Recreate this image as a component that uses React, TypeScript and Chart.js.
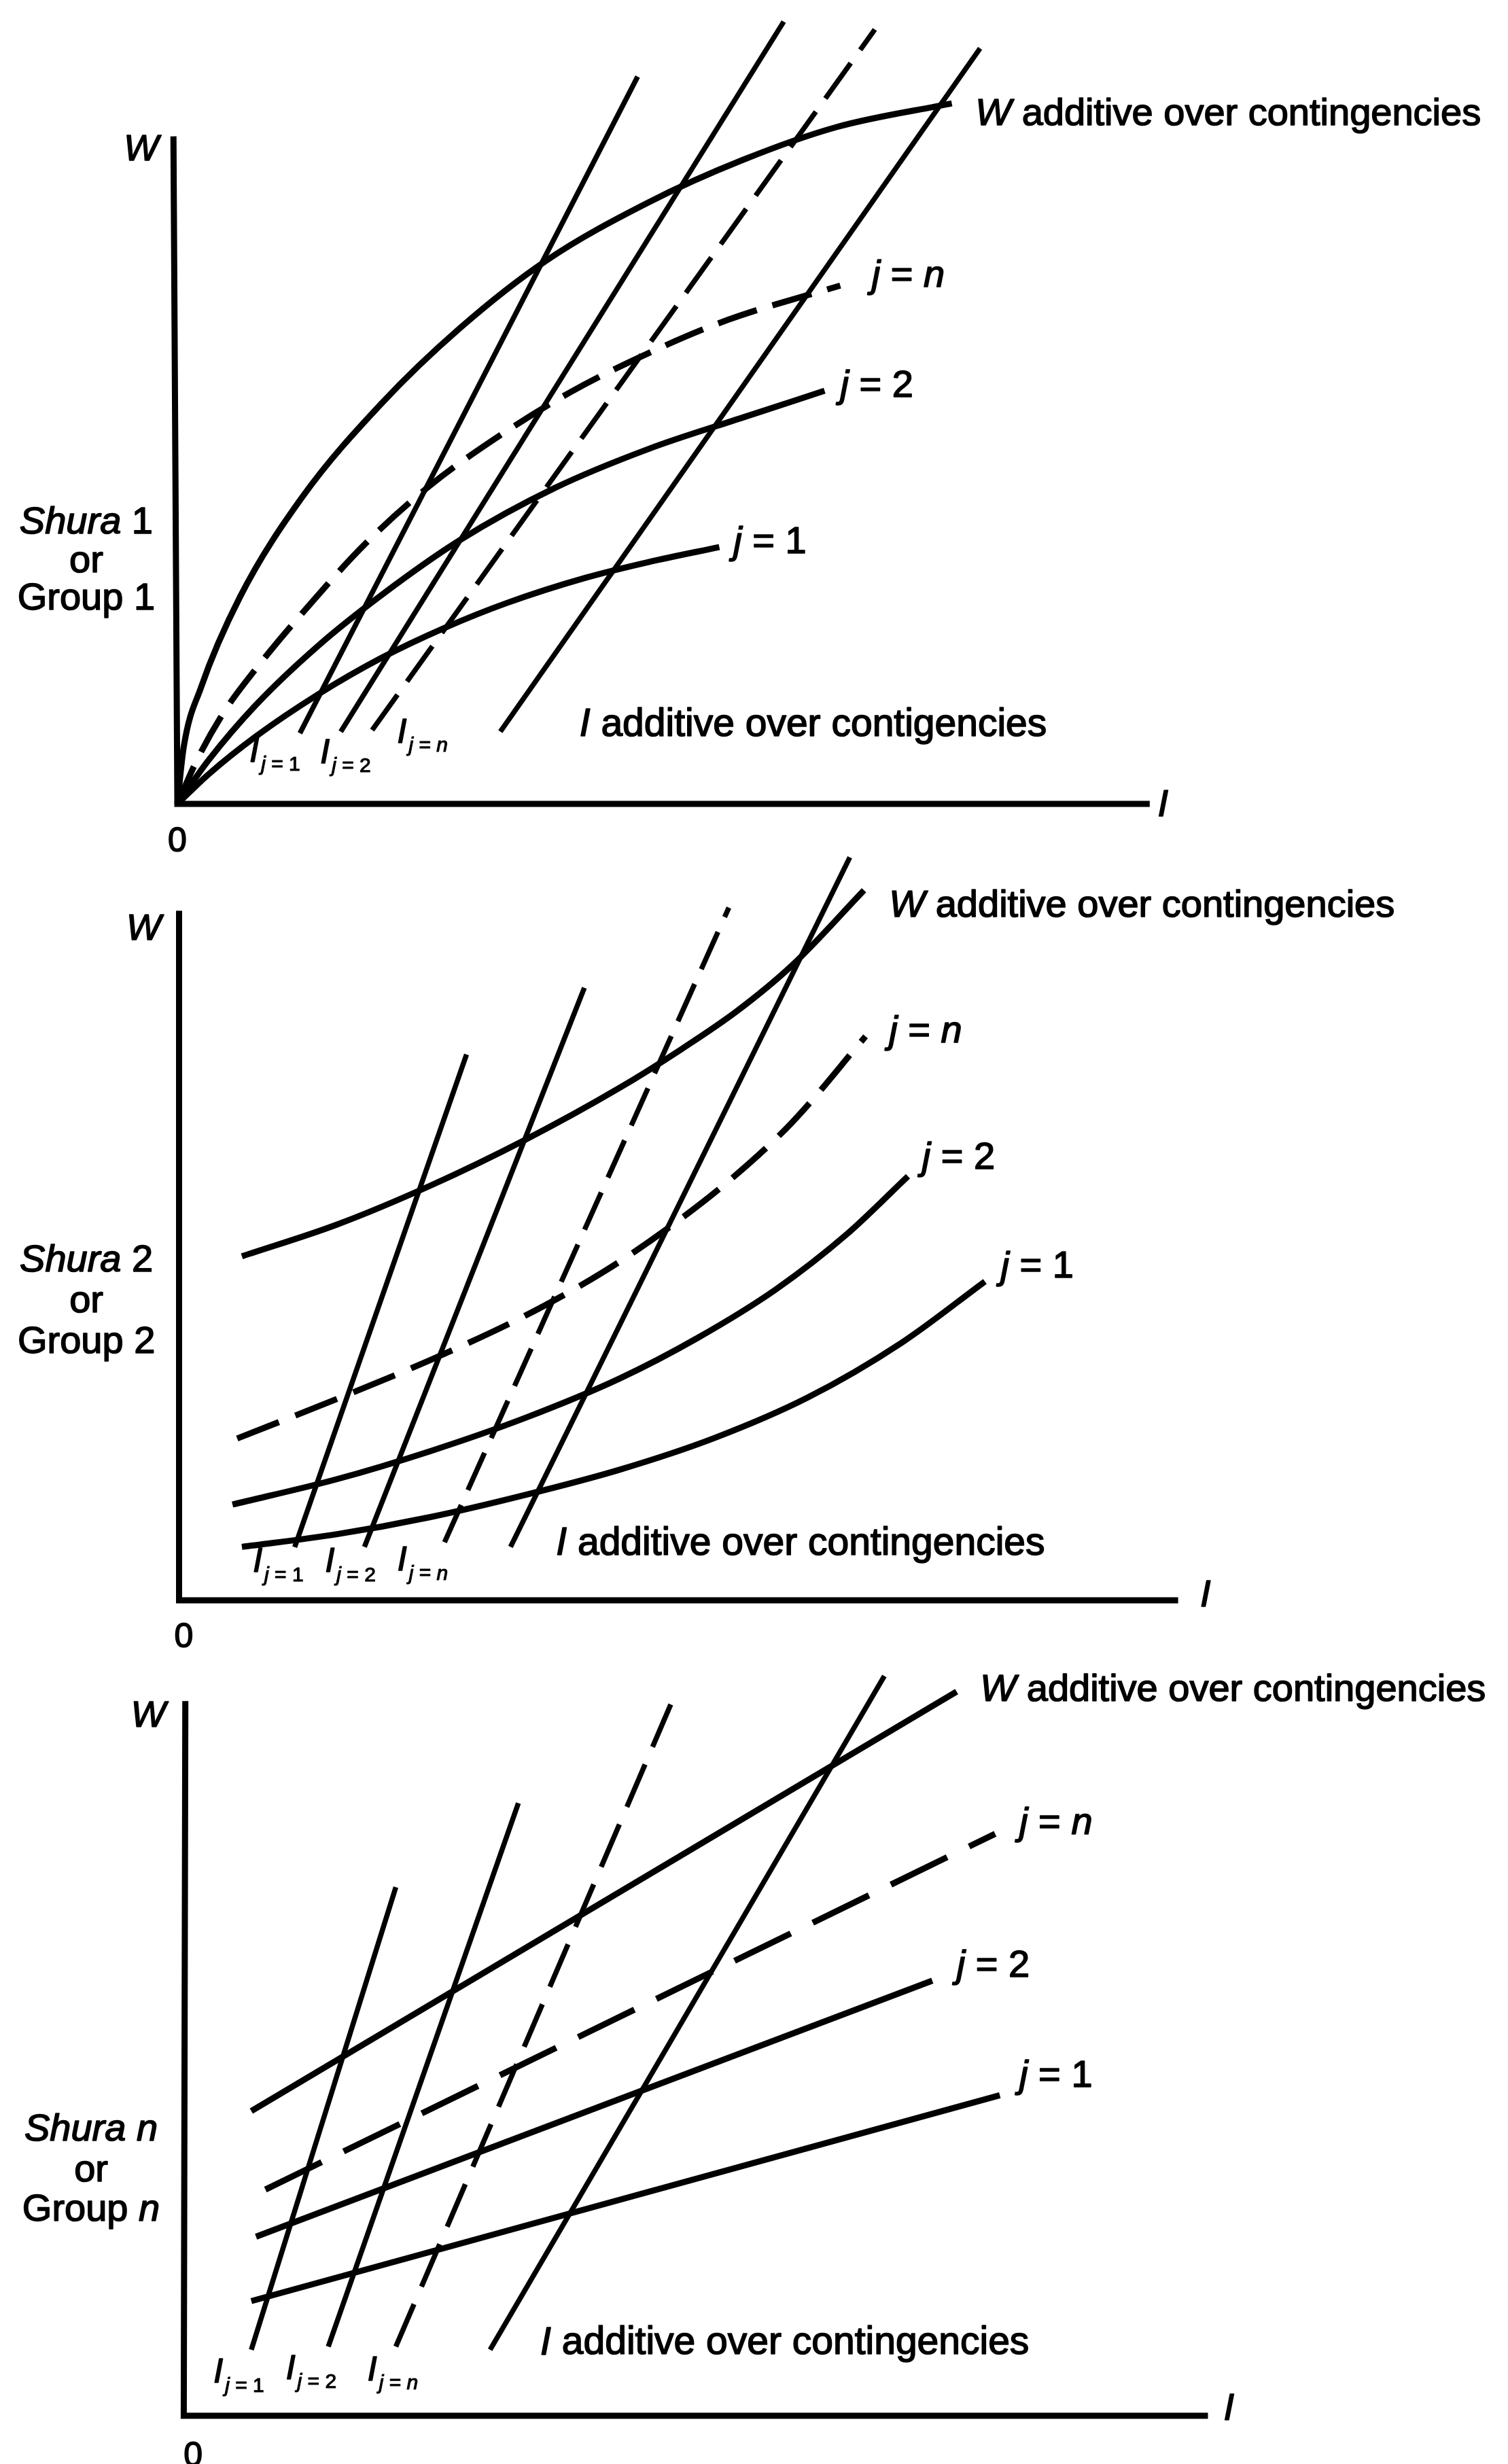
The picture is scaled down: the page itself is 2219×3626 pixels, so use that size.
import { useEffect, useRef } from "react";
import { Chart, registerables } from "chart.js";

Chart.register(...registerables);

type Pt = [number, number];
type Run = [string, boolean]; // [text, italic]

// ================= DATA (units of the I / W plane, origin at 0) =================

// ---- Panel 1 : Shura 1 or Group 1 (concave W curves) ----
const P1_W_ADDITIVE: Pt[] = [[0, 0], [0.4, 3.6], [1.5, 7.4], [4, 13.2], [8, 19.6], [13, 25.5], [18, 30.3], [23.5, 34.6], [30, 38.3], [36, 41.0], [42, 43.1], [49.3, 44.6]];
const P1_J_N: Pt[] = [[0, 0], [1.3, 2.9], [3, 5.9], [5, 8.6], [8, 12.2], [12, 16.6], [16, 20.2], [20, 23.1], [25, 26.2], [30, 28.7], [35, 30.8], [42.2, 33.0]];
const P1_J_2: Pt[] = [[0, 0], [2, 2.8], [5, 6.3], [9, 10.1], [13, 13.3], [18, 16.8], [24, 20.1], [30, 22.6], [36, 24.6], [41.2, 26.3]];
const P1_J_1: Pt[] = [[0, 0], [2, 1.9], [5, 4.3], [9, 7.0], [13, 9.3], [17, 11.2], [21, 12.8], [26, 14.4], [30, 15.4], [34.5, 16.35]];
const P1_I_J1: Pt[] = [[7.8, 4.5], [29.3, 46.3]];
const P1_I_J2: Pt[] = [[10.4, 4.6], [38.6, 49.8]];
const P1_I_JN: Pt[] = [[12.4, 4.7], [44.4, 49.3]];
const P1_I_ADDITIVE: Pt[] = [[20.56, 4.6], [51.1, 48.1]];
const P1_AXES: Pt[] = [[-0.25, 42.5], [0, 0], [61.9, 0]]; // W axis top, origin, I axis end

// ---- Panel 2 : Shura 2 or Group 2 (convex W curves) ----
const P2_W_ADDITIVE: Pt[] = [[4, 21.9], [10, 23.9], [16, 26.4], [22, 29.3], [28, 32.6], [32, 35.1], [35.5, 37.5], [39, 40.4], [43.6, 45.2]];
const P2_J_N: Pt[] = [[3.7, 10.3], [10, 12.8], [16, 15.3], [22, 18.1], [27, 20.9], [31, 23.6], [35, 26.7], [39, 30.4], [43.7, 35.9]];
const P2_J_2: Pt[] = [[3.4, 6.1], [10, 7.7], [16, 9.5], [22, 11.6], [28, 14.1], [33, 16.7], [38, 19.8], [42.5, 23.3], [46.4, 27.0]];
const P2_J_1: Pt[] = [[4, 3.4], [10, 4.2], [16, 5.3], [22, 6.7], [28, 8.3], [34, 10.3], [40, 12.9], [46, 16.4], [51.3, 20.3]];
const P2_I_J1: Pt[] = [[7.36, 3.39], [18.3, 34.75]];
const P2_I_J2: Pt[] = [[11.8, 3.4], [25.8, 39.0]];
const P2_I_JN: Pt[] = [[16.9, 3.7], [35.0, 44.1]];
const P2_I_ADDITIVE: Pt[] = [[21.1, 3.4], [42.7, 47.3]];
const P2_AXES: Pt[] = [[0, 43.9], [0, 0], [63.6, 0]];

// ---- Panel 3 : Shura n or Group n (linear W) ----
const P3_W_ADDITIVE: Pt[] = [[4.3, 19.4], [49.2, 46.1]];
const P3_J_N: Pt[] = [[5.2, 14.4], [51.65, 37.05]];
const P3_J_2: Pt[] = [[4.6, 11.4], [47.65, 27.7]];
const P3_J_1: Pt[] = [[4.3, 7.3], [51.95, 20.4]];
const P3_I_J1: Pt[] = [[4.3, 4.2], [13.5, 33.65]];
const P3_I_J2: Pt[] = [[9.2, 4.4], [21.3, 39.0]];
const P3_I_JN: Pt[] = [[13.5, 4.4], [31.35, 46.1]];
const P3_I_ADDITIVE: Pt[] = [[19.5, 4.2], [44.6, 47.1]];
const P3_AXES: Pt[] = [[0.1, 45.5], [0, 0], [65.2, 0]];

// ---- Text ----
const W_ADD_TEXT: Run[] = [["W", true], [" additive over contingencies", false]];
const I_ADD_TEXT_P1: Run[] = [["I", true], [" additive over contigencies", false]];
const I_ADD_TEXT: Run[] = [["I", true], [" additive over contingencies", false]];
const JN_TEXT: Run[] = [["j", true], [" = ", false], ["n", true]];
const J2_TEXT: Run[] = [["j", true], [" = 2", false]];
const J1_TEXT: Run[] = [["j", true], [" = 1", false]];
const SUB_J1: Run[] = [["j", true], [" = 1", false]];
const SUB_J2: Run[] = [["j", true], [" = 2", false]];
const SUB_JN: Run[] = [["j", true], [" = ", false], ["n", true]];
const SIDE_P1: Run[][] = [[["Shura", true], [" 1", false]], [["or", false]], [["Group 1", false]]];
const SIDE_P2: Run[][] = [[["Shura", true], [" 2", false]], [["or", false]], [["Group 2", false]]];
const SIDE_P3: Run[][] = [[["Shura n", true]], [["or", false]], [["Group ", false], ["n", true]]];

// ================= LAYOUT =================
const PAGE_W = 2219;
const PAGE_H = 3626;
const UNIT = 23.115; // pixels per data unit
const FONT = "'Liberation Sans', Arial, Helvetica, sans-serif";

interface Label { x: number; y: number; runs: Run[]; align: "left" | "center" | "right"; size: number }
interface SubLabel { x: number; y: number; sub: Run[] }
interface Panel {
  origin: [number, number];
  axes: Pt[];
  curves: { data: Pt[]; dashed: boolean; curved: boolean; width: number; dash: number[] }[];
  labels: Label[];
  subs: SubLabel[];
  side: { x: number; ys: number[]; lines: Run[][] };
}

const CURVE_W = 9;
const LINE_W = 7.5;

const PANELS: Panel[] = [
  {
    origin: [261, 1183],
    axes: P1_AXES,
    curves: [
      { data: P1_W_ADDITIVE, dashed: false, curved: true, width: CURVE_W, dash: [] },
      { data: P1_J_N, dashed: true, curved: true, width: CURVE_W, dash: [60, 24] },
      { data: P1_J_2, dashed: false, curved: true, width: CURVE_W, dash: [] },
      { data: P1_J_1, dashed: false, curved: true, width: CURVE_W, dash: [] },
      { data: P1_I_J1, dashed: false, curved: false, width: LINE_W, dash: [] },
      { data: P1_I_J2, dashed: false, curved: false, width: LINE_W, dash: [] },
      { data: P1_I_JN, dashed: true, curved: false, width: LINE_W, dash: [64, 24] },
      { data: P1_I_ADDITIVE, dashed: false, curved: false, width: LINE_W, dash: [] },
    ],
    labels: [
      { x: -1.2, y: 41.6, runs: [["W", true]], align: "right", size: 54 },
      { x: 0, y: -2.45, runs: [["0", false]], align: "center", size: 50 },
      { x: 62.4, y: -0.1, runs: [["I", true]], align: "left", size: 56 },
      { x: 50.8, y: 43.9, runs: W_ADD_TEXT, align: "left", size: 56 },
      { x: 44.2, y: 33.6, runs: JN_TEXT, align: "left", size: 56 },
      { x: 42.2, y: 26.6, runs: J2_TEXT, align: "left", size: 56 },
      { x: 35.4, y: 16.65, runs: J1_TEXT, align: "left", size: 56 },
      { x: 25.6, y: 5.0, runs: I_ADD_TEXT_P1, align: "left", size: 57 },
    ],
    subs: [
      { x: 4.6, y: 3.3, sub: SUB_J1 },
      { x: 9.1, y: 3.2, sub: SUB_J2 },
      { x: 14.0, y: 4.5, sub: SUB_JN },
    ],
    side: { x: -5.8, ys: [17.9, 15.4, 13.05], lines: SIDE_P1 },
  },
  {
    origin: [263.5, 2355],
    axes: P2_AXES,
    curves: [
      { data: P2_W_ADDITIVE, dashed: false, curved: true, width: CURVE_W, dash: [] },
      { data: P2_J_N, dashed: true, curved: true, width: CURVE_W, dash: [66, 26] },
      { data: P2_J_2, dashed: false, curved: true, width: CURVE_W, dash: [] },
      { data: P2_J_1, dashed: false, curved: true, width: CURVE_W, dash: [] },
      { data: P2_I_J1, dashed: false, curved: false, width: LINE_W, dash: [] },
      { data: P2_I_J2, dashed: false, curved: false, width: LINE_W, dash: [] },
      { data: P2_I_JN, dashed: true, curved: false, width: LINE_W, dash: [60, 24] },
      { data: P2_I_ADDITIVE, dashed: false, curved: false, width: LINE_W, dash: [] },
    ],
    labels: [
      { x: -1.15, y: 42.7, runs: [["W", true]], align: "right", size: 54 },
      { x: 0.3, y: -2.4, runs: [["0", false]], align: "center", size: 50 },
      { x: 65.0, y: 0.3, runs: [["I", true]], align: "left", size: 56 },
      { x: 45.2, y: 44.2, runs: W_ADD_TEXT, align: "left", size: 56 },
      { x: 45.2, y: 36.2, runs: JN_TEXT, align: "left", size: 56 },
      { x: 47.3, y: 28.15, runs: J2_TEXT, align: "left", size: 56 },
      { x: 52.3, y: 21.2, runs: J1_TEXT, align: "left", size: 56 },
      { x: 24.0, y: 3.6, runs: I_ADD_TEXT, align: "left", size: 57 },
    ],
    subs: [
      { x: 4.7, y: 2.4, sub: SUB_J1 },
      { x: 9.3, y: 2.4, sub: SUB_J2 },
      { x: 13.9, y: 2.5, sub: SUB_JN },
    ],
    side: { x: -5.9, ys: [21.6, 19.0, 16.4], lines: SIDE_P2 },
  },
  {
    origin: [270.4, 3555],
    axes: P3_AXES,
    curves: [
      { data: P3_W_ADDITIVE, dashed: false, curved: false, width: CURVE_W, dash: [] },
      { data: P3_J_N, dashed: true, curved: false, width: CURVE_W, dash: [92, 36] },
      { data: P3_J_2, dashed: false, curved: false, width: CURVE_W, dash: [] },
      { data: P3_J_1, dashed: false, curved: false, width: CURVE_W, dash: [] },
      { data: P3_I_J1, dashed: false, curved: false, width: LINE_W, dash: [] },
      { data: P3_I_J2, dashed: false, curved: false, width: LINE_W, dash: [] },
      { data: P3_I_JN, dashed: true, curved: false, width: LINE_W, dash: [68, 28] },
      { data: P3_I_ADDITIVE, dashed: false, curved: false, width: LINE_W, dash: [] },
    ],
    labels: [
      { x: -1.15, y: 44.5, runs: [["W", true]], align: "right", size: 54 },
      { x: 0.6, y: -2.6, runs: [["0", false]], align: "center", size: 50 },
      { x: 66.2, y: 0.4, runs: [["I", true]], align: "left", size: 56 },
      { x: 50.7, y: 46.2, runs: W_ADD_TEXT, align: "left", size: 56 },
      { x: 53.2, y: 37.7, runs: JN_TEXT, align: "left", size: 56 },
      { x: 49.2, y: 28.6, runs: J2_TEXT, align: "left", size: 56 },
      { x: 53.2, y: 21.6, runs: J1_TEXT, align: "left", size: 56 },
      { x: 22.7, y: 4.6, runs: I_ADD_TEXT, align: "left", size: 57 },
    ],
    subs: [
      { x: 1.9, y: 2.7, sub: SUB_J1 },
      { x: 6.5, y: 2.95, sub: SUB_J2 },
      { x: 11.7, y: 2.85, sub: SUB_JN },
    ],
    side: { x: -5.9, ys: [18.2, 15.6, 13.1], lines: SIDE_P3 },
  },
];

function fontOf(italic: boolean, size: number) {
  return `${italic ? "italic " : ""}${size}px ${FONT}`;
}

function drawRuns(ctx: CanvasRenderingContext2D, runs: Run[], x: number, y: number, size: number, align: string) {
  const widths = runs.map(([t, it]) => {
    ctx.font = fontOf(it, size);
    return ctx.measureText(t).width;
  });
  const total = widths.reduce((a, b) => a + b, 0);
  let cx = align === "left" ? x : align === "right" ? x - total : x - total / 2;
  ctx.textAlign = "left";
  ctx.textBaseline = "middle";
  ctx.lineWidth = size > 40 ? 1.6 : 1.1;
  ctx.lineJoin = "round";
  runs.forEach(([t, it], i) => {
    ctx.font = fontOf(it, size);
    ctx.fillText(t, cx, y);
    ctx.strokeText(t, cx, y);
    cx += widths[i];
  });
  return total;
}

const textPlugin = {
  id: "diagramText",
  afterDatasetsDraw(chart: any) {
    const ctx: CanvasRenderingContext2D = chart.ctx;
    ctx.save();
    ctx.fillStyle = "#000";
    ctx.strokeStyle = "#000";
    PANELS.forEach((p, i) => {
      const sx = chart.scales[`x${i + 1}`];
      const sy = chart.scales[`y${i + 1}`];
      const px = (v: number) => sx.getPixelForValue(v);
      const py = (v: number) => sy.getPixelForValue(v);
      p.labels.forEach((l) => drawRuns(ctx, l.runs, px(l.x), py(l.y), l.size, l.align));
      p.side.lines.forEach((ln, k) => drawRuns(ctx, ln, px(p.side.x), py(p.side.ys[k]), 56, "center"));
      p.subs.forEach((s) => {
        const w = drawRuns(ctx, [["I", true]], px(s.x), py(s.y), 50, "left");
        drawRuns(ctx, s.sub, px(s.x) + w + 3, py(s.y) + 19, 30, "left");
      });
    });
    ctx.restore();
  },
};

export default function App() {
  const ref = useRef<HTMLCanvasElement | null>(null);

  useEffect(() => {
    const canvas = ref.current;
    if (!canvas) return;
    const datasets: any[] = [];
    const scales: any = {};
    PANELS.forEach((p, i) => {
      const xId = `x${i + 1}`;
      const yId = `y${i + 1}`;
      const [ox, oy] = p.origin;
      scales[xId] = { type: "linear", axis: "x", display: false, bounds: "data", min: -ox / UNIT, max: (PAGE_W - ox) / UNIT };
      scales[yId] = { type: "linear", axis: "y", display: false, bounds: "data", min: -(PAGE_H - oy) / UNIT, max: oy / UNIT };
      datasets.push({
        data: p.axes.map(([x, y]) => ({ x, y })),
        xAxisID: xId, yAxisID: yId, showLine: true, borderColor: "#000", borderWidth: 9,
        pointRadius: 0, tension: 0, borderJoinStyle: "miter", borderCapStyle: "butt",
      });
      p.curves.forEach((c) => {
        datasets.push({
          data: c.data.map(([x, y]) => ({ x, y })),
          xAxisID: xId, yAxisID: yId, showLine: true, borderColor: "#000", borderWidth: c.width,
          borderDash: c.dashed ? c.dash : [], pointRadius: 0, borderCapStyle: "butt",
          tension: c.curved ? 0.4 : 0, cubicInterpolationMode: c.curved ? "monotone" : "default",
        });
      });
    });
    const chart = new Chart(canvas, {
      type: "scatter",
      data: { datasets },
      options: {
        responsive: false,
        animation: false,
        devicePixelRatio: 1,
        events: [],
        layout: { padding: 0 },
        plugins: { legend: { display: false }, tooltip: { enabled: false }, title: { display: false } },
        scales,
      },
      plugins: [textPlugin],
    } as any);
    return () => chart.destroy();
  }, []);

  return (
    <div style={{ position: "absolute", left: 0, top: 0, width: PAGE_W, height: PAGE_H, background: "#fff", overflow: "hidden" }}>
      <canvas ref={ref} width={PAGE_W} height={PAGE_H} style={{ display: "block", width: PAGE_W, height: PAGE_H }} />
    </div>
  );
}
